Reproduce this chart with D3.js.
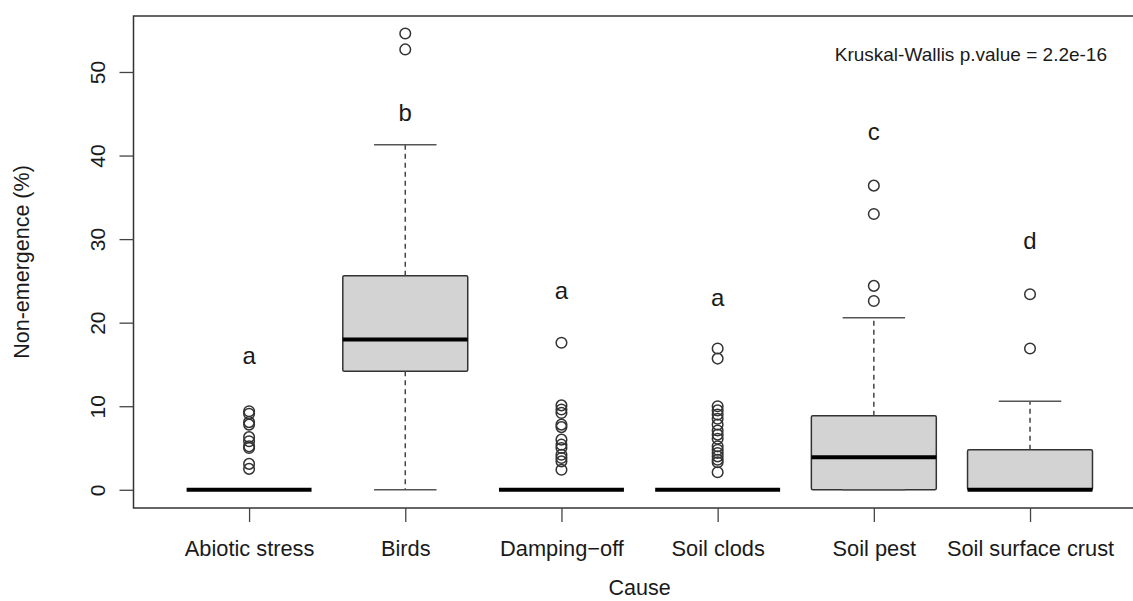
<!DOCTYPE html>
<html>
<head>
<meta charset="utf-8">
<script src="https://cdn.jsdelivr.net/npm/d3@7"></script>
<style>
  html, body { margin: 0; padding: 0; background: #fff; }
  svg { display: block; font-family: "Liberation Sans", Arial, sans-serif; }
  text { fill: #1a1a1a; }
</style>
</head>
<body>
<div id="chart"></div>
<script>
(function () {
  "use strict";

  // ── Data ──────────────────────────────────────────
  const causes = ["Abiotic stress", "Birds", "Damping\u2212off", "Soil clods", "Soil pest", "Soil surface crust"];
  const q1 = [0, 14.2, 0, 0, 0, 0];
  const medians = [0, 18.0, 0, 0, 3.9, 0];
  const q3 = [0, 25.6, 0, 0, 8.85, 4.8];
  const whiskLo = [0, 0, 0, 0, 0, 0];
  const whiskHi = [0, 41.3, 0, 0, 20.6, 10.6];
  const outliers = [
    [9.4, 9.1, 8.1, 7.8, 6.3, 5.8, 5.2, 5.0, 3.1, 2.5],
    [52.7, 54.6],
    [17.6, 10.1, 9.6, 9.2, 7.8, 7.5, 6.0, 5.4, 5.0, 4.2, 3.8, 3.4, 2.4],
    [16.9, 15.7, 10.0, 9.5, 9.0, 8.5, 7.8, 7.1, 6.6, 6.1, 5.2, 4.8, 4.4, 4.0, 3.6, 3.3, 2.1],
    [36.4, 33.0, 24.4, 22.6],
    [23.4, 16.9]
  ];
  const letters = ["a", "b", "a", "a", "c", "d"];
  const letterY = [15.1, 44.1, 22.85, 22.0, 41.9, 28.8];
  const yTicks = [0, 10, 20, 30, 40, 50];
  const testLabel = "Kruskal-Wallis p.value = 2.2e-16";

  // ── Layout ────────────────────────────────────────
  const width = 1133, height = 601;
  const plot = { left: 133.5, right: 1145.6, top: 16, bottom: 508 };

  const svg = d3.select("#chart").append("svg")
    .attr("width", width).attr("height", height);

  const x = d3.scaleLinear().domain([0.26, 6.74]).range([plot.left, plot.right]);
  const y = d3.scaleLinear().domain([-2.18, 56.7]).range([plot.bottom, plot.top]);

  const BOX_HALF = 0.4, CAP_HALF = 0.2;
  const idx = d3.range(causes.length);
  const edge = "#333";

  // ── Boxes ─────────────────────────────────────────
  const g = svg.append("g");

  g.selectAll(".box").data(idx).join("rect")
    .attr("x", i => x(i + 1 - BOX_HALF))
    .attr("width", x(1 + BOX_HALF) - x(1 - BOX_HALF))
    .attr("y", i => y(q3[i]))
    .attr("height", i => y(q1[i]) - y(q3[i]))
    .attr("rx", 1.5)
    .attr("fill", "#d3d3d3")
    .attr("stroke", edge)
    .attr("stroke-width", 1.5);

  // whiskers (dashed)
  g.selectAll(".wh-hi").data(idx.filter(i => whiskHi[i] > q3[i])).join("line")
    .attr("x1", i => x(i + 1)).attr("x2", i => x(i + 1))
    .attr("y1", i => y(q3[i])).attr("y2", i => y(whiskHi[i]))
    .attr("stroke", "#444").attr("stroke-width", 1.5)
    .attr("stroke-dasharray", "5,4");

  g.selectAll(".wh-lo").data(idx.filter(i => whiskLo[i] < q1[i])).join("line")
    .attr("x1", i => x(i + 1)).attr("x2", i => x(i + 1))
    .attr("y1", i => y(q1[i])).attr("y2", i => y(whiskLo[i]))
    .attr("stroke", "#444").attr("stroke-width", 1.5)
    .attr("stroke-dasharray", "5,4");

  // staples
  [whiskHi, whiskLo].forEach(arr => {
    g.append("g").selectAll("line").data(idx).join("line")
      .attr("x1", i => x(i + 1 - CAP_HALF)).attr("x2", i => x(i + 1 + CAP_HALF))
      .attr("y1", i => y(arr[i])).attr("y2", i => y(arr[i]))
      .attr("stroke", "#555").attr("stroke-width", 1.5);
  });

  // medians
  g.selectAll(".med").data(idx).join("line")
    .attr("x1", i => x(i + 1 - BOX_HALF)).attr("x2", i => x(i + 1 + BOX_HALF))
    .attr("y1", i => y(medians[i])).attr("y2", i => y(medians[i]))
    .attr("stroke", "#000").attr("stroke-width", 4);

  // outliers
  const pts = idx.flatMap(i => outliers[i].map(v => ({ i, v })));
  g.selectAll(".out").data(pts).join("circle")
    .attr("cx", d => x(d.i + 1))
    .attr("cy", d => y(d.v))
    .attr("r", 5.3)
    .attr("fill", "none")
    .attr("stroke", "#333")
    .attr("stroke-width", 1.5);

  // group letters
  g.selectAll(".letter").data(idx).join("text")
    .attr("x", i => x(i + 1))
    .attr("y", i => y(letterY[i]))
    .attr("text-anchor", "middle")
    .style("font-size", "24px")
    .text(i => letters[i]);

  // ── Frame & axes ──────────────────────────────────
  svg.append("rect")
    .attr("x", plot.left).attr("y", plot.top)
    .attr("width", plot.right - plot.left)
    .attr("height", plot.bottom - plot.top)
    .attr("fill", "none").attr("stroke", edge).attr("stroke-width", 1.5);

  const yAxis = svg.append("g")
    .attr("transform", `translate(${plot.left},0)`)
    .call(d3.axisLeft(y).tickValues(yTicks).tickSize(14).tickPadding(0).tickFormat(d3.format("d")));
  yAxis.select(".domain").remove();
  yAxis.selectAll(".tick line").attr("stroke", "#444").attr("stroke-width", 1.3);
  yAxis.selectAll(".tick text")
    .attr("x", null)
    .attr("text-anchor", "middle")
    .attr("transform", "translate(-36,0) rotate(-90)")
    .attr("dy", "0.35em")
    .style("font-size", "21px").style("fill", "#1a1a1a");

  const xAxis = svg.append("g")
    .attr("transform", `translate(0,${plot.bottom})`)
    .call(d3.axisBottom(x).tickValues(idx.map(i => i + 1)).tickSize(14).tickPadding(19)
      .tickFormat(d => causes[d - 1]));
  xAxis.select(".domain").remove();
  xAxis.selectAll(".tick line").attr("stroke", "#444").attr("stroke-width", 1.3);
  xAxis.selectAll(".tick text")
    .style("font-size", "21.8px").style("fill", "#1a1a1a");

  // titles
  svg.append("text")
    .attr("x", x(3.5)).attr("y", 595)
    .attr("text-anchor", "middle")
    .style("font-size", "21.5px")
    .text("Cause");

  svg.append("text")
    .attr("transform", `translate(29,${(plot.top + plot.bottom) / 2}) rotate(-90)`)
    .attr("text-anchor", "middle")
    .style("font-size", "21.5px")
    .text("Non-emergence (%)");

  svg.append("text")
    .attr("x", 1107).attr("y", 61)
    .attr("text-anchor", "end")
    .style("font-size", "19px")
    .text(testLabel);
})();
</script>
</body>
</html>
